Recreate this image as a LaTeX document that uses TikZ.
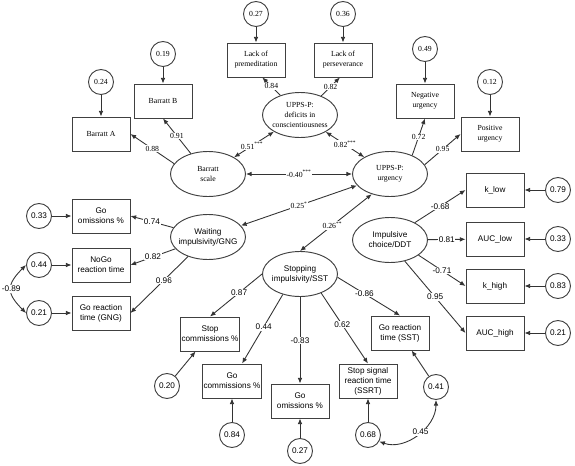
\documentclass[tikz,border=0pt]{standalone}
\usepackage{fontspec}
\setmainfont{Liberation Serif}
\setsansfont{Liberation Sans}
\usetikzlibrary{arrows.meta,shapes.geometric}
\tikzset{
  box/.style={draw=black!75, line width=0.8pt, align=center, minimum width=17.4mm, minimum height=10.2mm, inner sep=0.5pt, fill=white},
  lat/.style={ellipse, draw=black!75, line width=0.8pt, align=center, minimum width=22.5mm, minimum height=13.5mm, inner xsep=-5pt, inner ysep=0pt, fill=white},
  err/.style={circle, draw=black!75, line width=0.8pt, minimum size=7.5mm, inner sep=0pt, fill=white},
  sans/.style={font=\sffamily\fontsize{7}{8.5}\selectfont},
  arr/.style={-{Latex[length=1.7mm,width=1.4mm]}, line width=0.75pt, draw=black!80},
  dbl/.style={{Latex[length=1.7mm,width=1.4mm]}-{Latex[length=1.7mm,width=1.4mm]}, line width=0.75pt, draw=black!80},
  lbl/.style={fill=white, inner sep=0.6pt}}

\begin{document}
\begin{tikzpicture}[x=0.03cm, y=-0.03cm, every node/.style={font=\fontsize{6.6}{8.5}\selectfont}]
  \useasboundingbox (0,0) rectangle (575,465);
  % self-report part
  \node[box] (ba) at (101,134) {Barratt A};
  \node[box] (bb) at (163,101) {Barratt B};
  \node[box] (lp) at (256,60) {Lack of\\premeditation};
  \node[box] (lv) at (343,60) {Lack of\\perseverance};
  \node[box] (nu) at (425,101) {Negative\\urgency};
  \node[box] (pu) at (490,134) {Positive\\urgency};
  \node[err] (e24) at (101,82) {0.24};
  \node[err] (e19) at (163,54) {0.19};
  \node[err] (e27) at (256,14) {0.27};
  \node[err] (e36) at (343,14) {0.36};
  \node[err] (e49) at (425,49) {0.49};
  \node[err] (e12) at (490,82) {0.12};
  \node[lat] (bs) at (208,174) {Barratt\\scale};
  \node[lat] (dc) at (300,115) {UPPS-P:\\deficits in\\conscientiousness};
  \node[lat] (ug) at (390,174) {UPPS-P:\\urgency};
  % behavioural part
  \node[lat, sans] (wi) at (208,237) {Waiting\\impulsivity/GNG};
  \node[lat, sans] (si) at (300,274) {Stopping\\impulsivity/SST};
  \node[lat, sans] (dd) at (390,240) {Impulsive\\choice/DDT};
  \node[box, sans] (go1) at (101,216) {Go\\omissions \%};
  \node[box, sans] (nogo) at (101,265) {NoGo\\reaction time};
  \node[box, sans] (grt) at (101,313) {Go reaction\\time (GNG)};
  \node[err, sans] (e33) at (39,216) {0.33};
  \node[err, sans] (e44) at (39,265) {0.44};
  \node[err, sans] (e21) at (39,313) {0.21};
  \node[box, sans] (klow) at (495,190) {k\_low};
  \node[box, sans] (aucl) at (495,239) {AUC\_low};
  \node[box, sans] (khigh) at (495,286) {k\_high};
  \node[box, sans] (auch) at (495,333) {AUC\_high};
  \node[err, sans] (e79) at (558,190) {0.79};
  \node[err, sans] (e33b) at (558,239) {0.33};
  \node[err, sans] (e83) at (558,286) {0.83};
  \node[err, sans] (e21b) at (558,333) {0.21};
  \node[box, sans] (sc) at (210,334) {Stop\\commissions \%};
  \node[box, sans] (gc) at (232,381) {Go\\commissions \%};
  \node[box, sans] (gom) at (300,401) {Go\\omissions \%};
  \node[box, sans] (ssrt) at (368,381) {Stop signal\\reaction time\\(SSRT)};
  \node[box, sans] (gsst) at (400,333) {Go reaction\\time (SST)};
  \node[err, sans] (e20) at (167,386) {0.20};
  \node[err, sans] (e84) at (232,435) {0.84};
  \node[err, sans] (e27c) at (300,451) {0.27};
  \node[err, sans] (e68) at (368,435) {0.68};
  \node[err, sans] (e41) at (436,387) {0.41};
  % residuals
  \draw[arr] (e24) -- (ba); \draw[arr] (e19) -- (bb); \draw[arr] (e27) -- (lp);
  \draw[arr] (e36) -- (lv); \draw[arr] (e49) -- (nu); \draw[arr] (e12) -- (pu);
  \draw[arr] (e33) -- (go1); \draw[arr] (e44) -- (nogo); \draw[arr] (e21) -- (grt);
  \draw[arr] (e79) -- (klow); \draw[arr] (e33b) -- (aucl); \draw[arr] (e83) -- (khigh); \draw[arr] (e21b) -- (auch);
  \draw[arr] (e20) -- (sc); \draw[arr] (e84) -- (gc); \draw[arr] (e27c) -- (gom);
  \draw[arr] (e68) -- (ssrt); \draw[arr] (e41) -- (gsst);
  \draw[dbl] (e44.west) to[out=225, in=135, looseness=1.5] node[lbl, sans] {-0.89} (e21.west);
  \draw[dbl] (e68.-30) to[out=-20, in=-90] node[lbl, sans, pos=0.55] {0.45} (e41.south);
  % loadings and correlations
  \draw[arr] (bs.163) -- node[lbl] {0.88} (ba.east);
  \draw[arr] (bs.130) -- node[lbl] {0.91} (bb.south);
  \draw[arr] (dc.135) -- node[lbl] {0.84} (lp.290);
  \draw[arr] (dc.42) -- node[lbl] {0.82} (lv.260);
  \draw[arr] (ug.40) -- node[lbl] {0.72} (nu.south);
  \draw[arr] (ug.15) -- node[lbl] {0.95} (pu.west);
  \draw[dbl] (bs) -- node[lbl, pos=0.45] {0.51\textsuperscript{***}} (dc);
  \draw[dbl] (dc) -- node[lbl] {0.82\textsuperscript{***}} (ug);
  \draw[dbl] (bs) -- node[lbl] {-0.40\textsuperscript{***}} (ug);
  \draw[dbl] (ug) -- node[lbl] {0.25\textsuperscript{*}} (wi);
  \draw[dbl] (ug.228) -- node[lbl, pos=0.55] {0.26\textsuperscript{**}} (si.north);
  \draw[arr] (wi) -- node[lbl, sans] {0.74} (go1.east);
  \draw[arr] (wi) -- node[lbl, sans] {0.82} (nogo.east);
  \draw[arr] (wi) -- node[lbl, sans, pos=0.42] {0.96} (grt.east);
  \draw[arr] (si.west) -- node[lbl, sans, pos=0.44] {0.87} (sc.north);
  \draw[arr] (si.230) -- node[lbl, sans, pos=0.47] {0.44} (gc.60);
  \draw[arr] (si) -- node[lbl, sans] {-0.83} (gom);
  \draw[arr] (si.-42) -- node[lbl, sans, pos=0.45] {0.62} (ssrt.north);
  \draw[arr] (si.-5) -- node[lbl, sans, pos=0.43] {-0.86} (gsst.north);
  \draw[arr] (dd.35) -- node[lbl, sans] {-0.68} (klow.west);
  \draw[arr] (dd) -- node[lbl, sans] {0.81} (aucl);
  \draw[arr] (dd.-28) -- node[lbl, sans] {-0.71} (khigh.west);
  \draw[arr] (dd.-55) -- node[lbl, sans] {0.95} (auch.west);
\end{tikzpicture}
\end{document}
